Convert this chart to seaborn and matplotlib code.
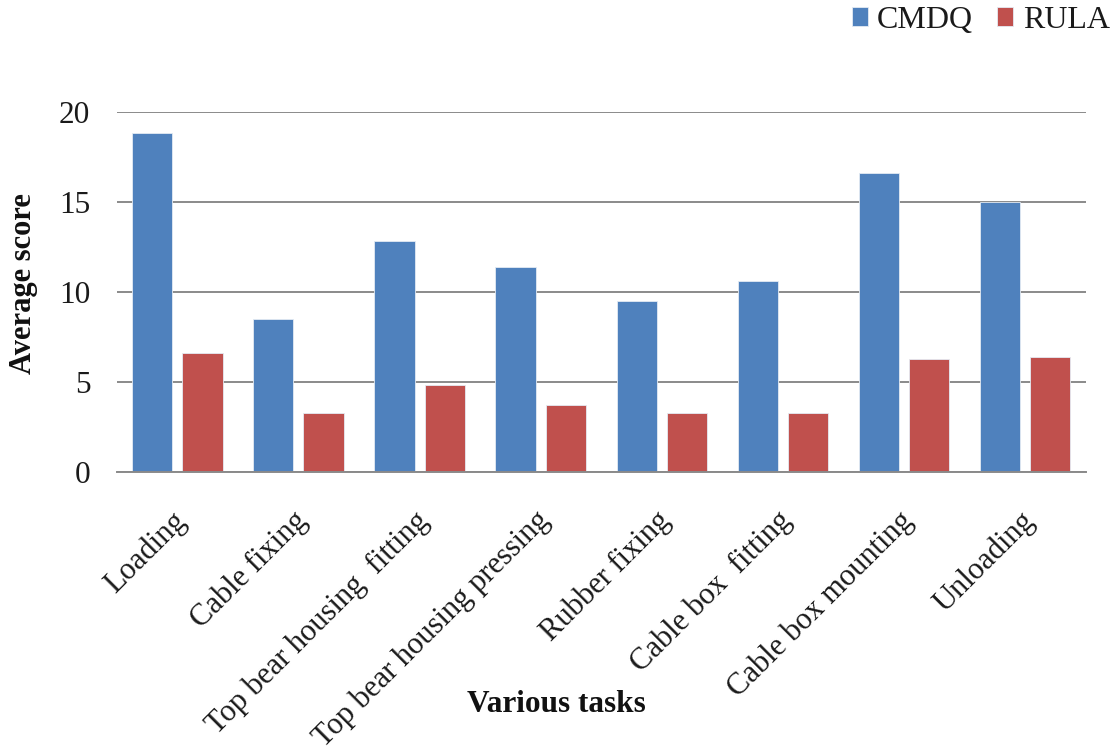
import matplotlib
matplotlib.use("Agg")
import matplotlib.pyplot as plt
import matplotlib.transforms as mtransforms
import seaborn as sns
import pandas as pd

# Task categories and average scores for each assessment method
tasks = [
    "Loading",
    "Cable fixing",
    "Top bear housing  fitting",
    "Top bear housing pressing",
    "Rubber fixing",
    "Cable box  fitting",
    "Cable box mounting",
    "Unloading",
]
cmdq = [18.83, 8.5, 12.83, 11.39, 9.5, 10.61, 16.61, 15.0]
rula = [6.61, 3.28, 4.83, 3.72, 3.28, 3.28, 6.28, 6.39]
methods = ["CMDQ", "RULA"]
colors = ["#4F81BD", "#C0504D"]
yticks = [0, 5, 10, 15, 20]

df = pd.DataFrame({
    "task": tasks * 2,
    "score": cmdq + rula,
    "method": [methods[0]] * len(tasks) + [methods[1]] * len(tasks),
})

sns.set_theme(style="white")
plt.rcParams["font.family"] = ["Liberation Serif", "DejaVu Serif"]

fig = plt.figure(figsize=(11.17, 7.53), dpi=100)
ax = fig.add_axes([0.1045, 0.3728, 0.8675, 0.4781])

sns.barplot(
    data=df, x="task", y="score", hue="method", hue_order=methods,
    order=tasks, palette=colors, saturation=1, width=0.83, gap=0.2,
    edgecolor="#e4ebf3", linewidth=0.6, ax=ax,
)

grid_color = "#8a8a8a"
text_color = "#1a1a1a"
ax.set_ylim(0, 20)
ax.set_xlim(-0.5, len(tasks) - 0.5)
ax.set_yticks(yticks)
ax.set_yticklabels([str(t) for t in yticks])
ax.yaxis.grid(True, color=grid_color, linewidth=1.4)
ax.set_axisbelow(True)
for side in ["left", "right", "top"]:
    ax.spines[side].set_visible(False)
ax.spines["bottom"].set_color(grid_color)
ax.spines["bottom"].set_linewidth(1.4)

ax.tick_params(axis="y", length=0, pad=19, labelsize=22.5, colors=text_color)
ax.tick_params(axis="x", length=0, pad=22, labelsize=22, colors=text_color)
shift = mtransforms.ScaledTranslation(-6 / 100, -3 / 100, fig.dpi_scale_trans)
for lbl in ax.get_xticklabels():
    lbl.set_rotation(45)
    lbl.set_ha("right")
    lbl.set_rotation_mode("anchor")
    lbl.set_transform(lbl.get_transform() + shift)

ax.set_xlabel("")
ax.set_ylabel("Average score", fontsize=22, fontweight="bold", color="#111111")
ax.yaxis.set_label_coords(-0.081, 0.525)
fig.text(556 / 1117, 1 - 705 / 753, "Various tasks", ha="center", va="center",
         fontsize=22.5, fontweight="bold", color="#111111")

ax.legend(
    loc="center", bbox_to_anchor=(0.878, 0.973), bbox_transform=fig.transFigure,
    ncol=2, frameon=False, fontsize=23, handlelength=0.5, handleheight=0.5,
    handletextpad=0.3, columnspacing=0.75, labelcolor=text_color,
)

fig.savefig("out.png", dpi=100, facecolor="white")
